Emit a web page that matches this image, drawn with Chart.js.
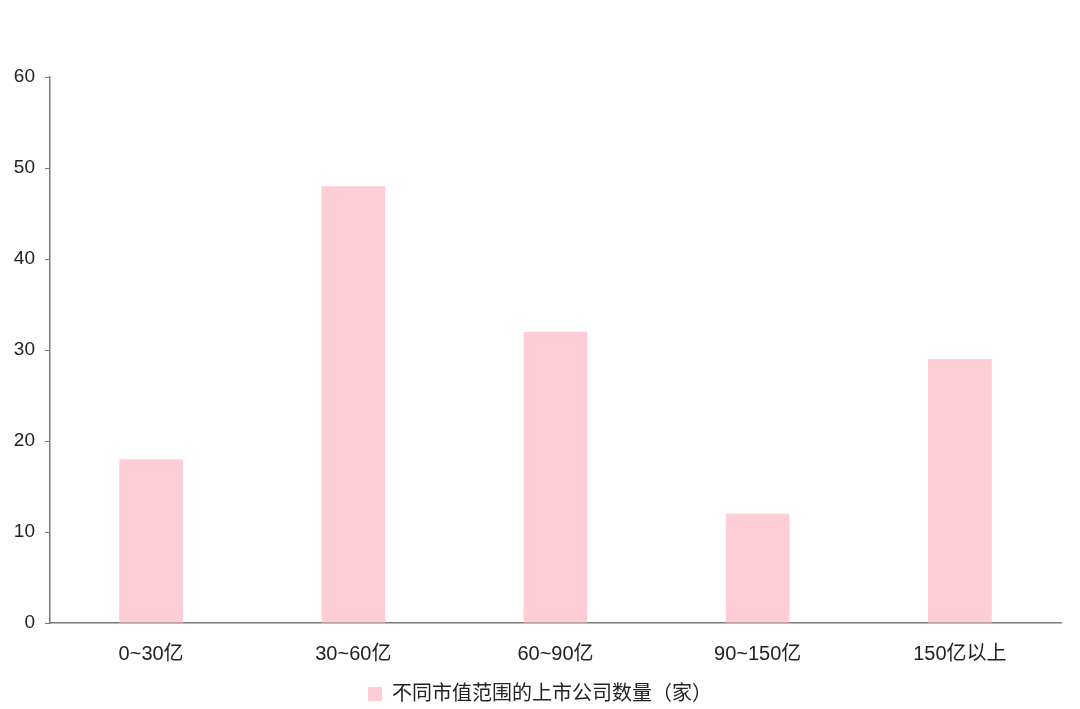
<!DOCTYPE html>
<html>
<head>
<meta charset="utf-8">
<script src="https://cdn.jsdelivr.net/npm/chart.js@4/dist/chart.umd.min.js"></script>
<style>
    html, body { margin: 0; padding: 0; background: #fff; }
    #wrap { width: 1080px; height: 709px; position: relative; }
</style>
</head>
<body>
<div id="wrap"><canvas id="capChart"></canvas></div>
<script>
// Market cap ranges and number of listed companies
const categories = ['0~30亿', '30~60亿', '60~90亿', '90~150亿', '150亿以上'];
const companyCounts = [18, 48, 32, 12, 29];
const seriesName = '不同市值范围的上市公司数量（家）';
const yTicks = [0, 10, 20, 30, 40, 50, 60];

const FONT = '"Liberation Sans", "Noto Sans CJK SC", Arial, sans-serif';
const axisColor = '#7a7a7a';
const barColor = '#ffcdd6';

Chart.defaults.font.family = FONT;
Chart.defaults.color = '#222';

new Chart(document.getElementById('capChart'), {
    type: 'bar',
    data: {
        labels: categories,
        datasets: [{
            label: seriesName,
            data: companyCounts,
            backgroundColor: barColor,
            borderWidth: 0,
            categoryPercentage: 1,
            barPercentage: 0.315
        }]
    },
    options: {
        responsive: true,
        maintainAspectRatio: false,
        animation: false,
        layout: {
            // legend sits a bit lower than the default box allows
            padding: { top: 77, right: 0, left: 0, bottom: -5 }
        },
        plugins: {
            legend: {
                position: 'bottom',
                labels: {
                    boxWidth: 14,
                    boxHeight: 14,
                    padding: 5,
                    font: { size: 20 },
                    color: '#222'
                }
            },
            tooltip: { enabled: false }
        },
        scales: {
            x: {
                grid: { display: false, drawTicks: false },
                border: { color: axisColor, width: 1.5 },
                ticks: { padding: 19, font: { size: 20 }, color: '#222' },
                afterFit: (scale) => { scale.height = 56; }
            },
            y: {
                min: 0,
                max: 60,
                afterBuildTicks: (scale) => {
                    scale.ticks = yTicks.map(v => ({ value: v }));
                },
                afterFit: (scale) => { scale.width = 50; },
                grid: { display: true, drawOnChartArea: false, tickLength: 5, color: axisColor },
                border: { color: axisColor, width: 1.5 },
                ticks: { padding: 10, font: { size: 19 }, color: '#222' }
            },
            // empty spacer on the right so the legend stays centred on the page
            spacer: {
                type: 'linear',
                position: 'right',
                grid: { display: false },
                border: { display: false },
                ticks: { display: false },
                afterFit: (scale) => { scale.width = 19; }
            }
        }
    }
});
</script>
</body>
</html>
